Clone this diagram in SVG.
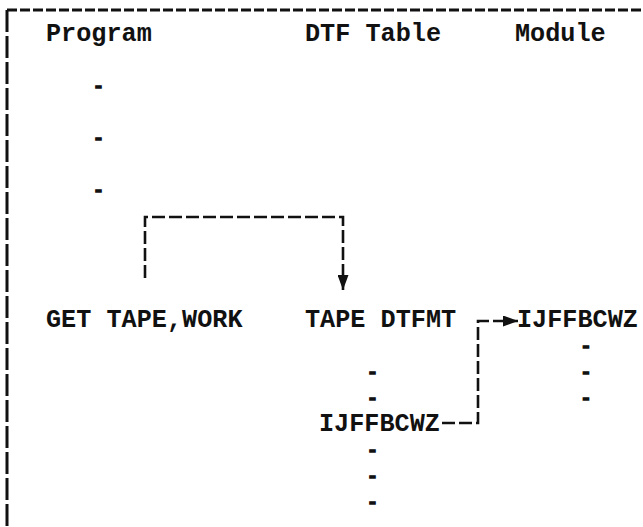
<svg xmlns="http://www.w3.org/2000/svg" width="643" height="527" viewBox="0 0 643 527">
<style>
  .t { font-family: "Liberation Mono", "DejaVu Sans Mono", monospace; font-size: 25.2px; font-weight: bold; fill: #111; }
  .d { font-family: "Liberation Mono", "DejaVu Sans Mono", monospace; font-size: 19px; font-weight: bold; fill: #111; stroke: #111; stroke-width: 1.3; text-anchor: middle; }
  .frame { fill: none; stroke: #111; stroke-width: 3; }
  .conn { fill: none; stroke: #111; stroke-width: 2.6; stroke-dasharray: 13 4; }
</style>
<defs>
  <marker id="ah" markerUnits="userSpaceOnUse" markerWidth="15" markerHeight="11" refX="15" refY="5.5" orient="auto">
    <path d="M0,0 L15,5.5 L0,11 Z" fill="#111"/>
  </marker>
</defs>
<rect width="643" height="527" fill="#fff"/>
<g id="frame">
  <line class="frame" x1="7" y1="10" x2="643" y2="10" stroke-dasharray="10 3"/>
  <line class="frame" x1="7" y1="10" x2="7" y2="527" stroke-dasharray="22 4"/>
</g>
<g id="program">
  <text class="t" x="46" y="41">Program</text>
  <text class="d" x="98.5" y="91.5">-</text>
  <text class="d" x="98.5" y="143.5">-</text>
  <text class="d" x="98.5" y="195.5">-</text>
  <text class="t" x="46" y="327">GET TAPE,WORK</text>
</g>
<g id="dtf-table">
  <text class="t" x="305" y="41">DTF Table</text>
  <text class="t" x="305" y="327">TAPE DTFMT</text>
  <text class="d" x="372.5" y="377.5">-</text>
  <text class="d" x="372.5" y="403.5">-</text>
  <text class="t" x="319" y="431">IJFFBCWZ</text>
  <text class="d" x="372.5" y="455.5">-</text>
  <text class="d" x="372.5" y="481.5">-</text>
  <text class="d" x="372.5" y="507.5">-</text>
</g>
<g id="module">
  <text class="t" x="515" y="41">Module</text>
  <text class="t" x="517" y="327">IJFFBCWZ</text>
  <text class="d" x="586" y="351.5">-</text>
  <text class="d" x="586" y="377.5">-</text>
  <text class="d" x="586" y="403.5">-</text>
</g>
<g id="connectors">
  <path class="conn" d="M145,278 V217 H343 V290" marker-end="url(#ah)"/>
  <path class="conn" d="M442,423 H478 V321 H518" marker-end="url(#ah)"/>
</g>
</svg>
